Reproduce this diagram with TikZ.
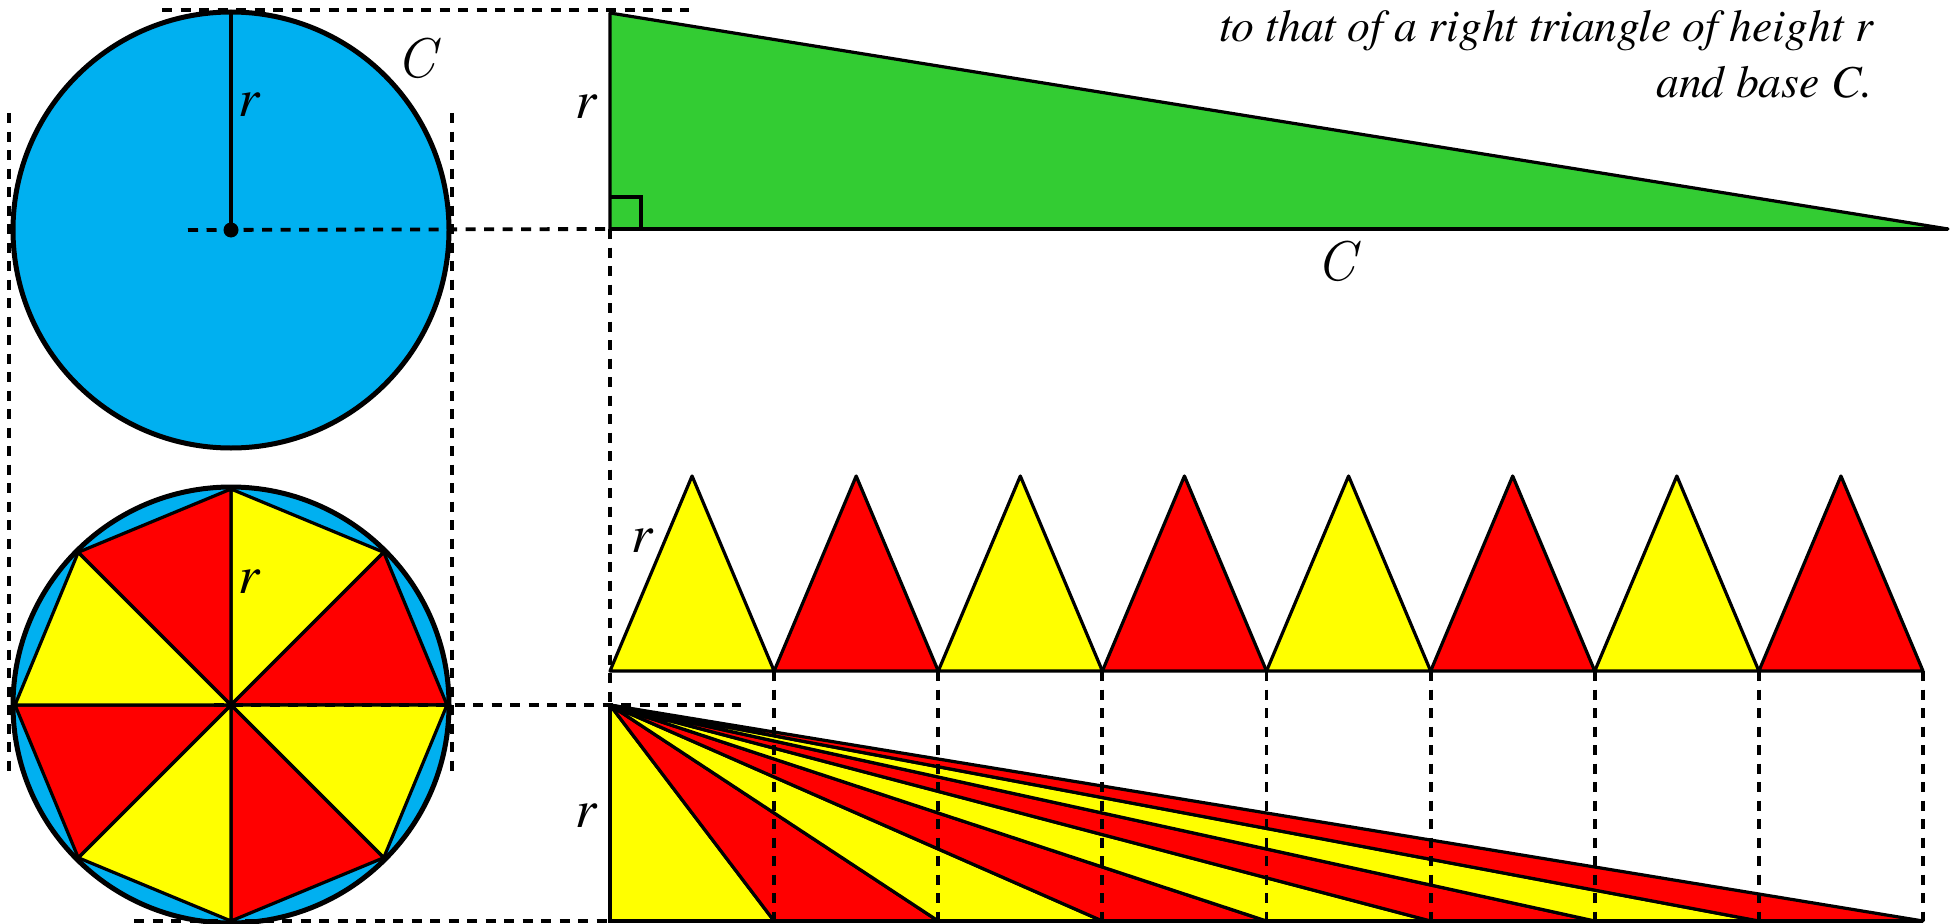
\documentclass[tikz,border=0pt]{standalone}
\usepackage{fontspec}
\setmainfont{texgyretermes}[Extension=.otf,UprightFont=*-regular,ItalicFont=*-italic,BoldFont=*-bold,BoldItalicFont=*-bolditalic]
\newfontfamily\lmr{Latin Modern Roman}
\definecolor{cblue}{RGB}{0,176,240}
\definecolor{cgreen}{RGB}{51,204,51}
\definecolor{cred}{RGB}{255,0,0}
\definecolor{cyel}{RGB}{255,255,0}
\begin{document}
\begin{tikzpicture}[x=1pt,y=-1pt,
  dsh/.style={line width=3.8pt,dash pattern=on 10pt off 8.5pt},
  edge/.style={line width=3.2pt,line join=round},
  rim/.style={line width=5pt,fill=cblue},
  rlab/.style={anchor=base,inner sep=0pt,font=\fontsize{54}{60}\selectfont\itshape},
  clab/.style={anchor=base,inner sep=0pt,font=\fontsize{56}{60}\selectfont\lmr\itshape},
  txt/.style={anchor=base east,inner sep=0pt,font=\fontsize{45.6}{56}\selectfont\itshape}]
\useasboundingbox (0,0) rectangle (1950,923);
% ---------- top circle ----------
\coordinate (O1) at (231,230);
\coordinate (T1) at (231,12);
\draw[rim] (O1) circle[radius=218];
\draw[line width=3.2pt] (T1) -- (O1);
\fill (O1) circle[radius=7.5];
% ---------- green triangle ----------
\coordinate (GA) at (610,13);
\coordinate (GB) at (610,229);
\coordinate (GC) at (1948,229);
\draw[edge,fill=cgreen] (GA) -- (GB) -- (GC) -- cycle;
\draw[line width=4pt] (GB) -- (GC);
\draw[line width=4pt] (610,197) -- (641,197) -- (641,229);
% ---------- octagon circle ----------
\coordinate (O2) at (231,705);
\draw[rim] (O2) circle[radius=218];
\foreach \i in {0,...,7}{
  \pgfmathsetmacro{\a}{90-45*\i}
  \pgfmathsetmacro{\b}{45-45*\i}
  \ifodd\i \def\col{cred}\else\def\col{cyel}\fi
  \draw[edge,fill=\col] (O2) -- ({231+216*cos(\a)},{705-216*sin(\a)}) -- ({231+216*cos(\b)},{705-216*sin(\b)}) -- cycle;
}
% ---------- row of triangles ----------
\foreach \k in {0,...,7}{
  \pgfmathsetmacro{\xa}{610+164.125*\k}
  \pgfmathsetmacro{\xb}{610+164.125*(\k+1)}
  \pgfmathsetmacro{\xm}{610+164.125*(\k+0.5)}
  \ifodd\k \def\col{cred}\else\def\col{cyel}\fi
  \coordinate (B\k) at (\xa,671);
  \draw[edge,fill=\col] (\xa,671) -- (\xm,476) -- (\xb,671) -- cycle;
}
\coordinate (B8) at (1923,671);
% ---------- fan ----------
\coordinate (F) at (610,705);
\foreach \k in {0,...,7}{
  \pgfmathsetmacro{\xa}{610+164.125*\k}
  \pgfmathsetmacro{\xb}{610+164.125*(\k+1)}
  \ifodd\k \def\col{cred}\else\def\col{cyel}\fi
  \draw[edge,fill=\col] (F) -- (\xa,921) -- (\xb,921) -- cycle;
}
\draw[line width=4pt] (F) -- (610,921) -- (1923,921);
% ---------- dashed guides ----------
\draw[dsh] (162,10) -- (689,10);
\draw[dsh] (188,230) -- (GB);
\draw[dsh] (9,113) -- (9,777);
\draw[dsh] (452,113) -- (452,777);
\draw[dsh] (GB) -- (610,921);
\draw[dsh] (214,705) -- (741,705);
\draw[dsh] (134,921) -- (610,921);
\foreach \k in {1,...,8}{
  \draw[dsh] (B\k) -- ++(0,250);
}
% ---------- labels ----------
\node[rlab] (r1) at (249,117) {r};
\node[clab] (c1) at (416,78) {C};
\node[rlab] (r2) at (586,118) {r};
\node[clab] (c2) at (1336,280) {C};
\node[rlab] (r3) at (249,593) {r};
\node[rlab] (r4) at (586,827) {r};
\node[rlab] (r5) at (642,552) {r};
\node[txt] (t1) at (1873,42) {to that of a right triangle of height r};
\node[txt] (t2) at (1873,98) {and base C.};
\end{tikzpicture}
\end{document}
